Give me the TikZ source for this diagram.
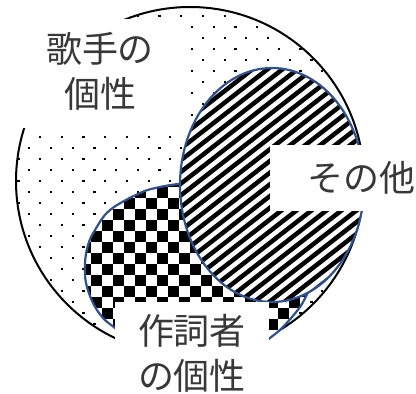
\documentclass[tikz,border=0pt]{standalone}
\usepackage{fontspec}
\newfontfamily\cjk{Noto Sans CJK JP}
\definecolor{shapeblue}{HTML}{2F528F}
\tikzset{
  bigline/.style={draw=black, line width=2pt},
  blueline/.style={draw=shapeblue, line width=2.2pt},
  label/.style={font=\cjk\fontsize{36}{45}\selectfont, text=black!78, align=center, inner sep=0pt},
  cover/.style={fill=white, draw=none},
  dotfill/.style={path picture={
      \foreach \r in {-7,...,10}{
        \foreach \i in {-3,...,14}{
          \fill[black] (72.7+21.7*\i-1.1, 148.3+22*\r-1.1) rectangle ++(2.2,2.2);
          \fill[black] (61.85+21.7*\i-1.1, 159.3+22*\r-1.1) rectangle ++(2.2,2.2);
        }}}},
  checkfill/.style={path picture={
      \foreach \i in {7,...,28}{
        \foreach \j in {15,...,32}{
          \pgfmathtruncatemacro\chk{mod(\i+\j,2)}
          \ifnum\chk=1 \fill[black] (3+11*\i, 11*\j) rectangle ++(11,11); \fi
        }}}},
  stripefill/.style={path picture={
      \foreach \c in {196,207.7,...,620}{
        \draw[black, line width=4.5pt] (165,\c-128.7) -- (375,\c-292.5);
      }}}
}
\begin{document}
\begin{tikzpicture}[x=1pt, y=-1pt]
\useasboundingbox (0,0) rectangle (416,394);
% big dotted circle
\draw[bigline, dotfill] (190,181) circle[radius=174];
% checker shape
\draw[blueline, fill=white, checkfill]
  plot[smooth, tension=0.6] coordinates {(200,182) (182,183.5) (160,187) (140,193) (110,210) (95,230) (88,245) (85,263) (86,283) (93,303) (103,318) (115,328) (124,336)}
  -- (140,365) -- (250,365)
  -- plot[smooth, tension=0.6] coordinates {(262,344) (270,338) (283,327) (300,307) (308,292)}
  -- (300,240) -- (240,190) -- cycle;
% hatched shape
\draw[blueline, fill=white, stripefill] (272,185) ellipse[x radius=92, y radius=117];
% white text boxes
\fill[cover] (0,18.5) rectangle (183,128);
\fill[cover] (270,145) rectangle (416,211);
\fill[cover] (115,302) rectangle (269,394);
% labels
\node[label] (singer) at (100,71.5) {歌手の\\個性};
\node[label] (other) at (361.5,178) {その他};
\node[label] (lyricist) at (192,353) {作詞者\\の個性};
\end{tikzpicture}
\end{document}
